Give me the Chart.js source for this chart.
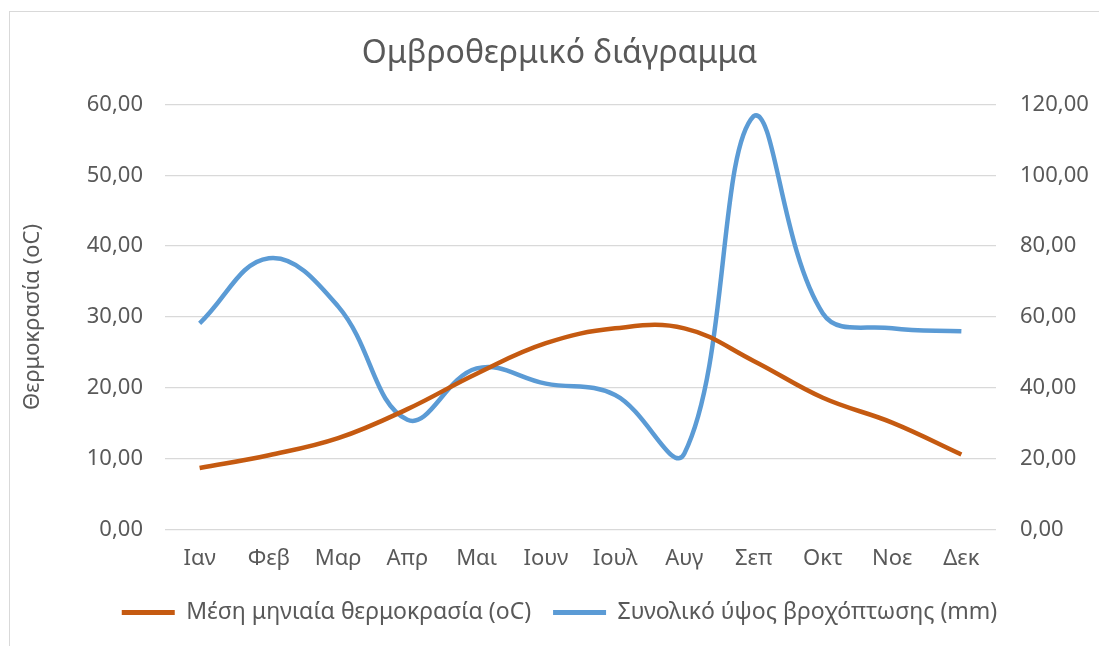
<!DOCTYPE html>
<html>
<head>
<meta charset="utf-8">
<script src="https://cdn.jsdelivr.net/npm/chart.js@4/dist/chart.umd.min.js"></script>
<style>
  html, body { margin: 0; padding: 0; background: #fff; }
  #wrap { position: relative; width: 1099px; height: 646px; overflow: hidden; }
  #frame { position: absolute; left: 9px; top: 11px; width: 1200px; height: 700px; border: 1px solid #d9d9d9; }
  canvas { position: absolute; left: 0; top: 0; }
</style>
</head>
<body>
<div id="wrap">
  <div id="frame"></div>
  <canvas id="chart" width="1099" height="646"></canvas>
</div>
<script>
// μήνες
const months = ["Ιαν", "Φεβ", "Μαρ", "Απρ", "Μαι", "Ιουν", "Ιουλ", "Αυγ", "Σεπ", "Οκτ", "Νοε", "Δεκ"];
// μέση θερμοκρασία (oC)
const temperature = [8.7, 10.5, 12.9, 17.0, 22.0, 26.3, 28.4, 28.4, 23.8, 18.6, 15.1, 10.6];
// ύψος βροχής (mm)
const rainfall = [58.2, 76.6, 63.0, 31.0, 45.5, 41.2, 38.0, 21.5, 116.7, 61.0, 56.8, 56.0];

const leftTicks = [0, 10, 20, 30, 40, 50, 60];
const rightTicks = [0, 20, 40, 60, 80, 100, 120];

const FONT = "'Noto Sans', 'Open Sans', sans-serif";
const GREY = "#595959";

function fmt(v) {
    return Number(v).toFixed(2).replace(".", ",");
}

new Chart(document.getElementById("chart"), {
    type: "line",
    data: {
        labels: months,
        datasets: [
            {
                label: "Μέση μηνιαία θερμοκρασία (oC)",
                data: temperature,
                borderColor: "#C55A11",
                backgroundColor: "#C55A11",
                borderWidth: 4.5,
                pointRadius: 0,
                tension: 0.4,
                yAxisID: "y"
            },
            {
                label: "Συνολικό ύψος βροχόπτωσης (mm)",
                data: rainfall,
                borderColor: "#5B9BD5",
                backgroundColor: "#5B9BD5",
                borderWidth: 4.5,
                pointRadius: 0,
                tension: 0.4,
                yAxisID: "y1"
            }
        ]
    },
    options: {
        responsive: false,
        animation: false,
        layout: { padding: { left: 20, right: 0, top: 0, bottom: 12 } },
        plugins: {
            title: {
                display: true,
                text: "Ομβροθερμικό διάγραμμα",
                color: GREY,
                font: { family: FONT, size: 32, weight: "normal" },
                padding: { top: 35, bottom: 31 }
            },
            legend: {
                position: "bottom",
                labels: {
                    color: GREY,
                    font: { family: FONT, size: 23 },
                    boxWidth: 53,
                    boxHeight: 5,
                    padding: 22,
                    generateLabels: function(chart) {
                        return chart.data.datasets.map(function(ds, i) {
                            return {
                                text: ds.label,
                                fillStyle: ds.borderColor,
                                strokeStyle: ds.borderColor,
                                lineWidth: 0,
                                fontColor: GREY,
                                datasetIndex: i
                            };
                        });
                    }
                }
            },
            tooltip: { enabled: false }
        },
        scales: {
            x: {
                offset: true,
                grid: { display: false },
                border: { display: false },
                ticks: { color: GREY, font: { family: FONT, size: 22 }, padding: 7.5 }
            },
            y: {
                position: "left",
                min: 0,
                max: 60,
                afterBuildTicks: function(scale) {
                    scale.ticks = leftTicks.map(function(v) { return { value: v }; });
                },
                afterFit: function(scale) { scale.width = 145; },
                grid: { color: "#d9d9d9", lineWidth: 1.3, drawTicks: false },
                border: { display: false },
                title: {
                    display: true,
                    text: "Θερμοκρασία (oC)",
                    color: GREY,
                    font: { family: FONT, size: 22 },
                    padding: { top: 0, bottom: 4 }
                },
                ticks: {
                    color: GREY,
                    font: { family: FONT, size: 22 },
                    padding: 22,
                    callback: fmt
                }
            },
            y1: {
                position: "right",
                min: 0,
                max: 120,
                afterBuildTicks: function(scale) {
                    scale.ticks = rightTicks.map(function(v) { return { value: v }; });
                },
                afterFit: function(scale) { scale.width = 103; },
                grid: { display: false },
                border: { display: false },
                ticks: {
                    color: GREY,
                    font: { family: FONT, size: 22 },
                    padding: 16,
                    callback: fmt
                }
            }
        }
    }
});
</script>
</body>
</html>
